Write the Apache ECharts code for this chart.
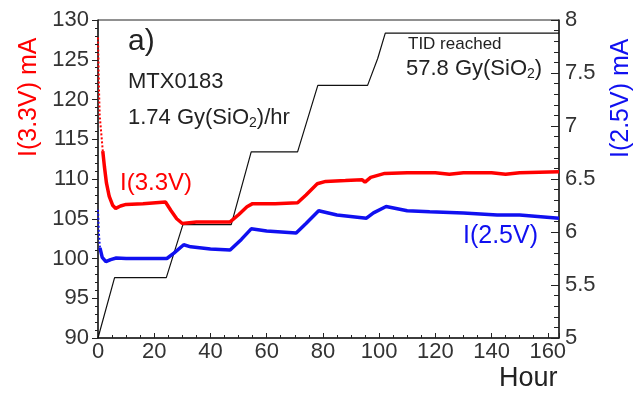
<!DOCTYPE html>
<html>
<head>
<meta charset="utf-8">
<script src="https://cdn.jsdelivr.net/npm/echarts@6/dist/echarts.min.js"></script>
<style>
html, body { margin: 0; padding: 0; background: #fff; }
#chart { width: 638px; height: 393px; }
</style>
</head>
<body>
<div id="chart"></div>
<script>
// I(3.3V) mA, left axis - fast initial drop (drawn dotted)
const redStartHours = [0, 0.3, 0.6, 1.1, 1.7]
const redStartValues = [127.8, 122, 118, 116, 113.5]
// I(3.3V) mA, left axis
const redHours = [1.7, 2.3, 3, 4, 5.2, 6.3, 8, 10, 16, 24, 26, 28, 30, 35, 40, 47, 50, 53, 55, 63, 71, 74, 78, 81, 88, 94, 95, 97, 102, 110, 120, 125, 130, 140, 145, 150, 164]
const redValues = [113.5, 111.5, 109.5, 107.8, 106.7, 106.3, 106.6, 106.8, 106.9, 107.1, 106, 105, 104.4, 104.6, 104.6, 104.6, 105.5, 106.5, 106.9, 106.9, 107, 108, 109.4, 109.7, 109.8, 109.9, 109.6, 110.2, 110.7, 110.8, 110.8, 110.6, 110.8, 110.8, 110.6, 110.8, 110.9]
// I(2.5V) mA, right axis
const blueStartHours = [0, 0.3, 0.7]
const blueStartValues = [6.21, 6.0, 5.85]
const blueHours = [0.7, 1.5, 2.8, 4.5, 6.5, 10, 24.5, 27, 30.5, 33, 40, 47, 51, 54.5, 60, 70.5, 74, 78.5, 85, 95.5, 98, 102.5, 110, 118, 130, 142, 150, 164]
const blueValues = [5.85, 5.76, 5.72, 5.74, 5.755, 5.75, 5.75, 5.8, 5.88, 5.86, 5.84, 5.83, 5.93, 6.03, 6.01, 5.99, 6.08, 6.2, 6.16, 6.13, 6.18, 6.24, 6.2, 6.19, 6.18, 6.16, 6.16, 6.13]
// accumulated dose Gy(SiO2), unlabeled scale
const doseHours = [0, 5.9, 24.3, 30.2, 47.4, 54.5, 71, 78.2, 95.9, 99.5, 102.2, 164]
const doseValues = [0, 11.45, 11.45, 21.5, 21.5, 35.3, 35.3, 47.9, 47.9, 53, 57.8, 57.8]

const xTicks = [0, 20, 40, 60, 80, 100, 120, 140, 160]

const zip = (xs, ys) => xs.map((x, i) => [x, ys[i]])

const font = 'Liberation Sans, Arial, sans-serif'
const grey = '#333'
const sub = { fontSize: 14, fontFamily: font, padding: [11, 0, 0, 0] }

const chart = echarts.init(document.getElementById('chart'))
chart.setOption({
  animation: false,
  grid: {
    left: 98,
    right: 79,
    top: 20,
    bottom: 55,
    show: true,
    borderColor: '#222',
    borderWidth: 1,
  },
  xAxis: {
    type: 'value',
    min: 0,
    max: 164,
    interval: 20,
    axisLine: { lineStyle: { color: '#222', width: 1.5 } },
    axisTick: { inside: true, length: 5, lineStyle: { color: '#222' } },
    minorTick: { show: true, splitNumber: 4, length: 3, lineStyle: { color: '#222' } },
    splitLine: { show: false },
    axisLabel: {
      color: grey,
      fontSize: 22,
      fontFamily: font,
      margin: 3,
      showMaxLabel: false,
      formatter: v => (xTicks.indexOf(v) >= 0 ? v : ''),
    },
  },
  yAxis: [{
    type: 'value',
    position: 'left',
    min: 90,
    max: 130,
    interval: 5,
    axisLine: { show: true, lineStyle: { color: '#222', width: 1.5 } },
    axisTick: { show: true, length: 6, lineStyle: { color: '#222' } },
    minorTick: { show: true, splitNumber: 5, length: 3, lineStyle: { color: '#222' } },
    splitLine: { show: false },
    axisLabel: { color: grey, fontSize: 22, fontFamily: font, margin: 9 },
  }, {
    type: 'value',
    position: 'right',
    min: 5,
    max: 8,
    interval: 0.5,
    axisLine: { show: true, lineStyle: { color: '#222', width: 1.5 } },
    axisTick: { show: true, inside: true, length: 8, lineStyle: { color: '#222' } },
    minorTick: { show: true, splitNumber: 5, length: 5, lineStyle: { color: '#222' } },
    splitLine: { show: false },
    axisLabel: { color: grey, fontSize: 22, fontFamily: font, margin: 6 },
  }, {
    type: 'value',
    show: false,
    min: 0,
    max: 60.3,
  }],
  series: [{
    type: 'line',
    yAxisIndex: 2,
    showSymbol: false,
    data: zip(doseHours, doseValues),
    lineStyle: { color: '#111', width: 1.2 },
    z: 1,
  }, {
    type: 'line',
    yAxisIndex: 1,
    showSymbol: false,
    data: zip(blueStartHours, blueStartValues),
    lineStyle: { color: '#1010f0', width: 2, type: 'dotted' },
    z: 2,
  }, {
    type: 'line',
    yAxisIndex: 1,
    showSymbol: false,
    data: zip(blueHours, blueValues),
    lineStyle: { color: '#1010f0', width: 3.5 },
    z: 2,
  }, {
    type: 'line',
    yAxisIndex: 0,
    showSymbol: false,
    data: zip(redStartHours, redStartValues),
    lineStyle: { color: '#ff0000', width: 2, type: 'dotted' },
    z: 3,
  }, {
    type: 'line',
    yAxisIndex: 0,
    showSymbol: false,
    data: zip(redHours, redValues),
    lineStyle: { color: '#ff0000', width: 3.5 },
    z: 3,
  }],
  graphic: [{
    type: 'text',
    x: 128, y: 27,
    style: { text: 'a)', font: '30px ' + font, fill: '#222' },
  }, {
    type: 'text',
    x: 128, y: 71,
    style: { text: 'MTX0183', font: '22px ' + font, fill: '#222' },
  }, {
    type: 'text',
    x: 128, y: 105,
    style: {
      text: '1.74 Gy(SiO{sub|2})/hr',
      font: '22px ' + font,
      fill: '#222',
      rich: { sub: sub },
    },
  }, {
    type: 'text',
    x: 120, y: 171,
    style: { text: 'I(3.3V)', font: '24px ' + font, fill: '#ff0000' },
  }, {
    type: 'text',
    x: 408, y: 36,
    style: { text: 'TID reached', font: '17px ' + font, fill: '#222' },
  }, {
    type: 'text',
    x: 406, y: 56,
    style: {
      text: '57.8 Gy(SiO{sub|2})',
      font: '22px ' + font,
      fill: '#222',
      rich: { sub: sub },
    },
  }, {
    type: 'text',
    x: 463, y: 224,
    style: { text: 'I(2.5V)', font: '25px ' + font, fill: '#1010f0' },
  }, {
    type: 'text',
    x: 499, y: 365,
    style: { text: 'Hour', font: '27px ' + font, fill: '#222' },
  }, {
    type: 'text',
    x: 17, y: 157,
    rotation: Math.PI / 2,
    style: { text: 'I(3.3V) mA', font: '25px ' + font, fill: '#ff0000' },
  }, {
    type: 'text',
    x: 609, y: 158,
    rotation: Math.PI / 2,
    style: { text: 'I(2.5V) mA', font: '25px ' + font, fill: '#1010f0' },
  }],
})
</script>
</body>
</html>
